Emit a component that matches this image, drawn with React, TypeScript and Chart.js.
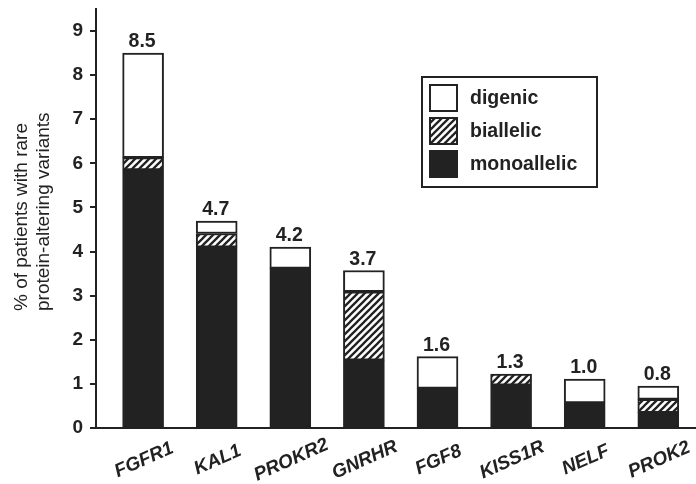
import React, { useEffect, useRef } from "react";
import { Chart, registerables } from "chart.js";

Chart.register(...registerables);

const genes = ["FGFR1", "KAL1", "PROKR2", "GNRHR", "FGF8", "KISS1R", "NELF", "PROK2"];
const monoallelic = [5.85, 4.1, 3.62, 1.54, 0.9, 0.97, 0.57, 0.35];
const biallelic: (number | null)[] = [0.28, 0.31, null, 1.55, null, 0.25, null, 0.3];
const digenic: (number | null)[] = [2.37, 0.28, 0.48, 0.48, 0.72, null, 0.54, 0.3];
const totalLabels = ["8.5", "4.7", "4.2", "3.7", "1.6", "1.3", "1.0", "0.8"];
const legendLabels = ["digenic", "biallelic", "monoallelic"];
const yTitleLines = ["% of patients with rare", "protein-altering variants"];
const yMin = 0;
const yMax = 9.5;
const yStep = 1;

const INK = "#222222";
const FONT = '"Liberation Sans", Arial, Helvetica, sans-serif';

function makeHatch(): CanvasPattern | string {
  const p = 7;
  const c = document.createElement("canvas");
  c.width = p;
  c.height = p;
  const g = c.getContext("2d");
  if (!g) return "#888";
  g.fillStyle = "#ffffff";
  g.fillRect(0, 0, p, p);
  g.strokeStyle = INK;
  g.lineWidth = 2.3;
  g.beginPath();
  for (let k = -1; k <= 1; k++) {
    g.moveTo(k * p - 1, p + 1);
    g.lineTo(k * p + p + 1, -1);
  }
  g.stroke();
  const pat = g.createPattern(c, "repeat");
  return pat || "#888";
}

export default function App() {
  const ref = useRef<HTMLCanvasElement | null>(null);

  useEffect(() => {
    const canvas = ref.current;
    if (!canvas) return;
    const hatch = makeHatch();

    const toPts = (arr: (number | null)[]) => arr.map((v, i) => ({ x: i, y: v }));

    const overlay = {
      id: "overlay",
      afterDraw(chart: any) {
        const ctx: CanvasRenderingContext2D = chart.ctx;
        const xs = chart.scales.x;
        const ys = chart.scales.y;
        ctx.save();
        ctx.fillStyle = INK;

        // x axis line extends slightly left of the y axis
        ctx.strokeStyle = INK;
        ctx.lineWidth = 2;
        ctx.beginPath();
        ctx.moveTo(xs.left - 6, ys.bottom);
        ctx.lineTo(xs.left, ys.bottom);
        ctx.stroke();

        // value labels above bars
        ctx.font = `bold 19.5px ${FONT}`;
        ctx.textAlign = "center";
        ctx.textBaseline = "alphabetic";
        genes.forEach((_, i) => {
          const tot = (monoallelic[i] || 0) + (biallelic[i] || 0) + (digenic[i] || 0);
          ctx.fillText(totalLabels[i], xs.getPixelForValue(i) - 1, ys.getPixelForValue(tot) - 6);
        });

        // rotated category labels
        ctx.font = `italic bold 19px ${FONT}`;
        ctx.textBaseline = "middle";
        genes.forEach((g, i) => {
          ctx.save();
          ctx.translate(xs.getPixelForValue(i) + 1, ys.bottom + 32);
          ctx.rotate((-24 * Math.PI) / 180);
          ctx.fillText(g, 0, 0);
          ctx.restore();
        });

        // y title
        ctx.font = `19px ${FONT}`;
        ctx.textAlign = "left";
        ctx.textBaseline = "middle";
        ctx.save();
        ctx.translate(0, 311);
        ctx.rotate(-Math.PI / 2);
        ctx.fillText(yTitleLines[0], 0, 22);
        ctx.fillText(yTitleLines[1], 0, 44);
        ctx.restore();

        // legend
        const lx = 422, ly = 77, lw = 175, lh = 110;
        ctx.fillStyle = "#ffffff";
        ctx.fillRect(lx, ly, lw, lh);
        ctx.strokeStyle = INK;
        ctx.lineWidth = 2;
        ctx.strokeRect(lx, ly, lw, lh);
        const fills: (string | CanvasPattern)[] = ["#ffffff", hatch, INK];
        const sy = [85, 118, 151];
        legendLabels.forEach((lab, k) => {
          ctx.fillStyle = fills[k];
          ctx.fillRect(430, sy[k], 27, 26);
          ctx.strokeStyle = INK;
          ctx.lineWidth = 2;
          ctx.strokeRect(430, sy[k], 27, 26);
          ctx.fillStyle = INK;
          ctx.font = `bold 19.5px ${FONT}`;
          ctx.textAlign = "left";
          ctx.textBaseline = "middle";
          ctx.fillText(lab, 470, sy[k] + 14);
        });
        ctx.restore();
      },
    };

    const common = {
      borderColor: INK,
      borderWidth: 2,
      borderSkipped: false,
      barThickness: 41,
      stack: "s",
    };

    const chart = new Chart(canvas, {
      type: "bar",
      data: {
        datasets: [
          { ...common, label: "monoallelic", data: toPts(monoallelic), backgroundColor: INK } as any,
          { ...common, label: "biallelic", data: toPts(biallelic), backgroundColor: hatch } as any,
          { ...common, label: "digenic", data: toPts(digenic), backgroundColor: "#ffffff" } as any,
        ],
      },
      options: {
        responsive: false,
        animation: false,
        devicePixelRatio: 1,
        layout: { padding: { left: 0, top: 9, right: 10, bottom: 0 } },
        plugins: { legend: { display: false }, tooltip: { enabled: false } },
        scales: {
          x: {
            type: "linear",
            offset: false,
            min: -0.64,
            max: 8.246,
            stacked: true,
            grid: { display: false, offset: false },
            ticks: { display: false },
            border: { display: true, color: INK, width: 2 },
            afterFit: (s: any) => {
              s.height = 56;
              s.paddingLeft = 0;
              s.paddingRight = 0;
            },
          },
          y: {
            min: yMin,
            max: yMax,
            stacked: true,
            ticks: {
              stepSize: yStep,
              includeBounds: false,
              color: INK,
              padding: 7,
              font: { family: FONT, size: 19, weight: "bold" },
            },
            grid: { drawOnChartArea: false, drawTicks: true, tickLength: 6, color: INK, lineWidth: 2 },
            border: { display: true, color: INK, width: 2 },
            afterFit: (s: any) => {
              s.width = 96;
              s.paddingTop = 0;
              s.paddingBottom = 0;
            },
          },
        },
      } as any,
      plugins: [overlay],
    });

    return () => chart.destroy();
  }, []);

  return (
    <div
      style={{
        position: "fixed",
        left: 0,
        top: 0,
        width: 696,
        height: 484,
        overflow: "hidden",
        background: "#ffffff",
      }}
    >
      <canvas ref={ref} width={760} height={484} style={{ display: "block" }} />
    </div>
  );
}
